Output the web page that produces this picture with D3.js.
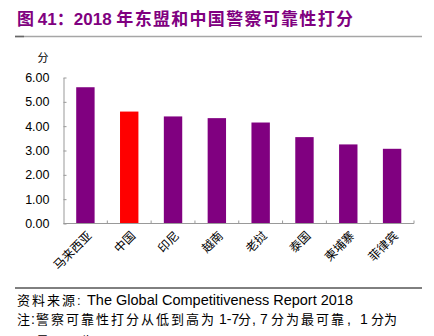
<!DOCTYPE html>
<html>
<head>
<meta charset="utf-8">
<script src="https://cdn.jsdelivr.net/npm/d3@7"></script>
<style>
  body { margin: 0; background: #fff; }
  text { font-family: "Liberation Sans", Arial, "Noto Sans CJK SC", sans-serif; }
  .cjk { font-family: "Noto Sans CJK SC", sans-serif; }
</style>
</head>
<body>
<div id="chart"></div>
<script>
// data
var countries = ["马来西亚", "中国", "印尼", "越南", "老挝", "泰国", "柬埔寨", "菲律宾"];
var scores = [5.6, 4.6, 4.4, 4.33, 4.15, 3.55, 3.25, 3.07];
var highlight = "中国";
var yTicks = [0, 1, 2, 3, 4, 5, 6];

var W = 434, H = 336;
var plot = {left: 63.5, right: 414, top: 77.5, bottom: 223.5};

var svg = d3.select("#chart")
  .append("svg")
    .attr("width", W)
    .attr("height", H);

// title
var title = svg.append("text")
    .attr("x", 17)
    .attr("y", 25)
    .attr("fill", "#800080")
    .style("font-size", "17px")
    .style("font-weight", "bold");
title.append("tspan").attr("class", "cjk").text("图 ");
title.append("tspan").text("41");
title.append("tspan").attr("class", "cjk").text("：");
title.append("tspan").text("2018 ");
title.append("tspan").attr("class", "cjk").style("letter-spacing", "1.3px").text("年东盟和中国警察可靠性打分");

svg.append("line")
    .attr("x1", 15).attr("x2", 422)
    .attr("y1", 36.5).attr("y2", 36.5)
    .attr("stroke", "#a6a6a6")
    .attr("stroke-width", 1.5);
svg.append("line")
    .attr("x1", 15).attr("x2", 24)
    .attr("y1", 36.5).attr("y2", 36.5)
    .attr("stroke", "#666")
    .attr("stroke-width", 1.5);

var x = d3.scaleBand()
    .domain(countries)
    .range([plot.left, plot.right])
    .paddingInner(0.58)
    .paddingOuter(0.29);

var y = d3.scaleLinear()
    .domain([0, 6])
    .range([plot.bottom, plot.top]);

// y axis
var yAxis = svg.append("g")
    .attr("transform", "translate(" + plot.left + ",0)")
    .call(d3.axisLeft(y).tickValues(yTicks).tickFormat(d3.format(".2f")).tickSizeInner(-3).tickSizeOuter(0).tickPadding(14));
yAxis.select(".domain").attr("stroke", "#999");
yAxis.selectAll(".tick line").attr("stroke", "#999");
yAxis.selectAll(".tick text")
    .attr("fill", "#000")
    .style("font-size", "12.5px")
    .style("font-family", "Liberation Sans, Arial, sans-serif");

svg.append("text")
    .attr("class", "cjk")
    .attr("x", 43)
    .attr("y", 62)
    .attr("text-anchor", "middle")
    .style("font-size", "11px")
    .text("分");

// bars
svg.selectAll("rect.bar")
  .data(countries)
  .enter()
  .append("rect")
    .attr("class", "bar")
    .attr("x", function(d) { return x(d); })
    .attr("width", x.bandwidth())
    .attr("y", function(d, i) { return y(scores[i]); })
    .attr("height", function(d, i) { return y(0) - y(scores[i]); })
    .attr("fill", function(d) { return d === highlight ? "#ff0000" : "#800080"; });

// x axis: line plus inward ticks at category boundaries
svg.append("line")
    .attr("x1", plot.left).attr("x2", plot.right)
    .attr("y1", plot.bottom).attr("y2", plot.bottom)
    .attr("stroke", "#999");
var step = x.step();
svg.selectAll("line.xtick")
  .data(countries)
  .enter()
  .append("line")
    .attr("class", "xtick")
    .attr("x1", function(d) { return x(d) + x.bandwidth() / 2 + step / 2; })
    .attr("x2", function(d) { return x(d) + x.bandwidth() / 2 + step / 2; })
    .attr("y1", plot.bottom)
    .attr("y2", plot.bottom - 3)
    .attr("stroke", "#999");

svg.selectAll("text.xlab")
  .data(countries)
  .enter()
  .append("text")
    .attr("class", "xlab cjk")
    .attr("transform", function(d) {
      return "translate(" + (x(d) + x.bandwidth() / 2 + 4) + "," + (plot.bottom + 10) + ") rotate(-45)";
    })
    .attr("text-anchor", "end")
    .attr("dy", "0.35em")
    .style("font-size", "12px")
    .text(function(d) { return d; });

// footer
svg.append("line")
    .attr("x1", 15).attr("x2", 422)
    .attr("y1", 288).attr("y2", 288)
    .attr("stroke", "#000")
    .attr("stroke-width", 1);

var src = svg.append("text")
    .attr("y", 305);
src.append("tspan").attr("class", "cjk").attr("x", 17)
    .style("font-size", "13px").style("letter-spacing", "2px").text("资料来源");
src.append("tspan").attr("x", 77)
    .style("font-size", "13px").text(":");
src.append("tspan").attr("x", 87)
    .style("font-size", "14.5px").text("The Global Competitiveness Report 2018");

// note line: pieces placed where the reference puts them
var notePieces = [
  {t: "注", x: 17, cjk: true},
  {t: ":", x: 31, cjk: false},
  {t: "警察可靠性打分从低到高为", x: 36, cjk: true},
  {t: "1-7", x: 219, cjk: false},
  {t: "分", x: 238, cjk: true},
  {t: ",", x: 252, cjk: false},
  {t: "7", x: 260, cjk: false},
  {t: "分为最可靠", x: 271, cjk: true},
  {t: ",", x: 347, cjk: false},
  {t: "1", x: 360, cjk: false},
  {t: "分为", x: 371, cjk: true}
];
var note = svg.append("text")
    .attr("y", 324);
note.selectAll("tspan")
  .data(notePieces)
  .enter()
  .append("tspan")
    .attr("class", function(d) { return d.cjk ? "cjk" : null; })
    .attr("x", function(d) { return d.x; })
    .style("font-size", function(d) { return d.cjk ? "13px" : "14px"; })
    .style("letter-spacing", function(d, i) {
      return d.cjk && i + 1 < notePieces.length ? "2px" : null;
    })
    .text(function(d) { return d.t; });

// the reference cuts this last line off at the bottom edge
svg.append("text")
    .attr("class", "cjk")
    .attr("x", 36)
    .attr("y", 346)
    .style("font-size", "13px")
    .style("letter-spacing", "2px")
    .text("最不可靠。");
</script>
</body>
</html>
